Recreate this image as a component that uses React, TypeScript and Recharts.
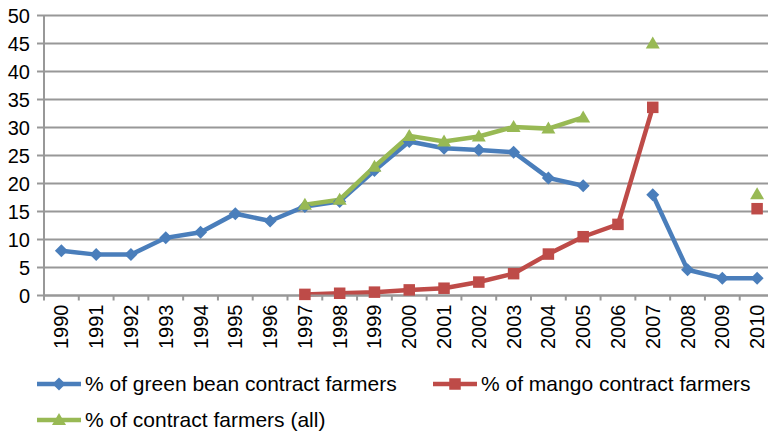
import React from "react";
import { LineChart, Line, XAxis, YAxis, CartesianGrid } from "recharts";

const years = [
  "1990", "1991", "1992", "1993", "1994", "1995", "1996", "1997", "1998", "1999", "2000",
  "2001", "2002", "2003", "2004", "2005", "2006", "2007", "2008", "2009", "2010",
];

const greenBean = [
  8.0, 7.3, 7.3, 10.3, 11.3, 14.6, 13.3, 15.9, 16.8, 22.3, 27.5,
  26.3, 26.0, 25.6, 21.0, 19.6, null, 18.0, 4.6, 3.1, 3.1,
];

const mango = [
  null, null, null, null, null, null, null, 0.2, 0.4, 0.6, 1.0,
  1.3, 2.4, 3.9, 7.4, 10.5, 12.7, 33.6, null, null, 15.5,
];

const allFarmers = [
  null, null, null, null, null, null, null, 16.2, 17.1, 23.0, 28.5,
  27.5, 28.4, 30.1, 29.8, 31.8, null, 45.0, null, null, 18.1,
];

const yTicks = [0, 5, 10, 15, 20, 25, 30, 35, 40, 45, 50];

const seriesNames = [
  "% of green bean contract farmers",
  "% of mango contract farmers",
  "% of contract farmers (all)",
];

const BLUE = "#4a7ebb";
const RED = "#be4b48";
const GREEN = "#98b954";
const GRID = "#989898";
const FONT = "'Liberation Sans', Arial, sans-serif";

const CHART_W = 780;
const CHART_H = 435;
const MARGIN = { top: 15.5, right: 5.5, bottom: 79.5, left: 0 };
const Y_AXIS_W = 44;
const PLOT_W = CHART_W - MARGIN.left - MARGIN.right - Y_AXIS_W;
const BAND = PLOT_W / years.length;
const X_TICK_SIZE = 5;
const X_TICK_MARGIN = 4;

const data = years.map((year, i) => ({
  year,
  greenBean: greenBean[i],
  mango: mango[i],
  allFarmers: allFarmers[i],
}));

type Shape = "diamond" | "square" | "triangle";

function Marker({ cx, cy, shape, color }: { cx: number; cy: number; shape: Shape; color: string }) {
  if (shape === "diamond") {
    const r = 6.5;
    return <polygon points={`${cx},${cy - r} ${cx + r},${cy} ${cx},${cy + r} ${cx - r},${cy}`} fill={color} />;
  }
  if (shape === "square") {
    const s = 11.5;
    return <rect x={cx - s / 2} y={cy - s / 2} width={s} height={s} fill={color} />;
  }
  return (
    <polygon points={`${cx},${cy - 7} ${cx + 7},${cy + 5} ${cx - 7},${cy + 5}`} fill={color} />
  );
}

function makeDot(shape: Shape, color: string) {
  return (props: any) => {
    const { cx, cy, index, value } = props;
    if (cx == null || cy == null || value == null) return <g key={`e-${index}`} />;
    return (
      <g key={`m-${index}`}>
        <Marker cx={cx} cy={cy} shape={shape} color={color} />
      </g>
    );
  };
}

function YearTick(props: any) {
  const { x, y, payload, index } = props;
  const axisY = y - X_TICK_MARGIN - X_TICK_SIZE;
  const last = index === years.length - 1;
  return (
    <g>
      <line x1={x - BAND / 2} x2={x - BAND / 2} y1={axisY} y2={axisY + X_TICK_SIZE} stroke={GRID} strokeWidth={2} />
      {last && (
        <line x1={x + BAND / 2} x2={x + BAND / 2} y1={axisY} y2={axisY + X_TICK_SIZE} stroke={GRID} strokeWidth={2} />
      )}
      <text
        x={x}
        y={y}
        dy="0.35em"
        textAnchor="end"
        transform={`rotate(-90 ${x} ${y})`}
        fontSize={20}
        fill="#000"
        fontFamily={FONT}
      >
        {payload.value}
      </text>
    </g>
  );
}

function LegendItem({ left, top, shape, color, label }: { left: number; top: number; shape: Shape; color: string; label: string }) {
  return (
    <div style={{ position: "absolute", left, top, height: 30, display: "flex", alignItems: "center" }}>
      <svg width={46} height={30} style={{ display: "block" }}>
        <line x1={1} x2={45} y1={15} y2={15} stroke={color} strokeWidth={4.5} />
        <Marker cx={23} cy={15} shape={shape} color={color} />
      </svg>
      <span style={{ marginLeft: 3, fontSize: 21, fontFamily: FONT, color: "#000", whiteSpace: "nowrap" }}>{label}</span>
    </div>
  );
}

export default function App() {
  return (
    <div
      style={{
        position: "absolute",
        left: 0,
        top: 0,
        width: 768,
        height: 435,
        overflow: "hidden",
        background: "#fff",
        fontFamily: FONT,
      }}
    >
      <LineChart width={CHART_W} height={CHART_H} data={data} margin={MARGIN}>
        <CartesianGrid vertical={false} stroke={GRID} strokeWidth={2} />
        <XAxis
          dataKey="year"
          interval={0}
          padding={{ left: BAND / 2, right: BAND / 2 }}
          height={60}
          tickLine={false}
          tickSize={X_TICK_SIZE}
          tickMargin={X_TICK_MARGIN}
          axisLine={{ stroke: GRID, strokeWidth: 2 }}
          tick={<YearTick />}
        />
        <YAxis
          width={Y_AXIS_W}
          domain={[0, 50]}
          ticks={yTicks}
          interval={0}
          tickSize={7}
          tickMargin={7}
          tickLine={{ stroke: GRID, strokeWidth: 2 }}
          axisLine={{ stroke: GRID, strokeWidth: 2 }}
          tick={{ fill: "#000", fontSize: 20, fontFamily: FONT }}
        />
        <Line
          dataKey="greenBean"
          stroke={BLUE}
          strokeWidth={4.5}
          dot={makeDot("diamond", BLUE)}
          activeDot={false}
          isAnimationActive={false}
        />
        <Line
          dataKey="mango"
          stroke={RED}
          strokeWidth={4.5}
          dot={makeDot("square", RED)}
          activeDot={false}
          isAnimationActive={false}
        />
        <Line
          dataKey="allFarmers"
          stroke={GREEN}
          strokeWidth={4.5}
          dot={makeDot("triangle", GREEN)}
          activeDot={false}
          isAnimationActive={false}
        />
      </LineChart>
      <LegendItem left={36} top={369} shape="diamond" color={BLUE} label={seriesNames[0]} />
      <LegendItem left={432} top={369} shape="square" color={RED} label={seriesNames[1]} />
      <LegendItem left={36} top={405} shape="triangle" color={GREEN} label={seriesNames[2]} />
    </div>
  );
}
